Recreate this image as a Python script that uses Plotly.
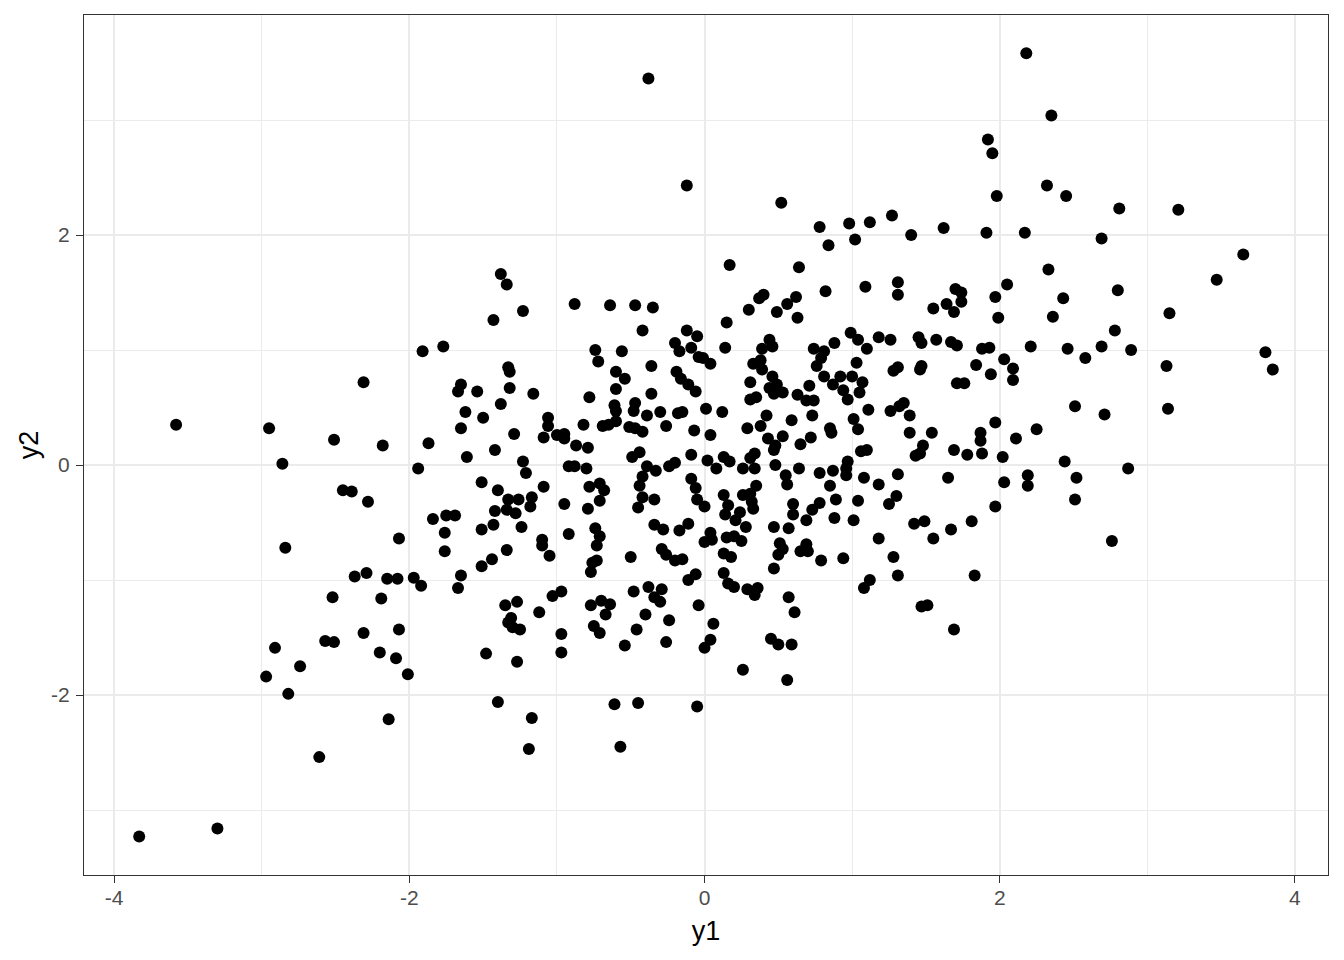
import plotly.graph_objects as go

# Values (y1 on x-axis, y2 on y-axis)
y1 = [
    -2.31, -3.58, -2.95, -2.51, -2.18, -2.86, -2.45, -2.39, -2.28, -2.07, -2.84, -2.37, -2.29, -2.15, -2.08, -2.52, -2.19,
    -2.31, -2.07, -2.57, -2.51, -2.91, -2.20, -2.09, -2.74, -2.97, -2.82, -2.01, -2.14, -2.61, -3.83, -3.30,
    -1.38, -1.34, -1.23, -1.43, -0.88, -0.64, -0.47, -0.35, -0.42, -1.91, -1.77, -0.74, -0.72, -0.56, -0.36, -1.33,
    -1.32, -0.60, -0.54, -1.65, -1.67, -1.54, -1.32, -1.16, -0.60, -0.36, -0.78, -1.62, -1.50, -1.38, -0.61, -0.60,
    -0.47, -0.48, -0.39, -0.30, -1.65, -1.29, -1.06, -1.06, -0.82, -0.69, -0.65, -0.60, -0.51, -0.47, -0.42, -0.26,
    -1.87, -1.61, -1.42, -1.09, -1.00, -0.95, -0.95, -0.87, -0.79, -0.49, -0.44, -0.39, -0.33, -0.24, -1.94, -1.23,
    -1.21, -0.92, -0.88, -0.80, -1.51, -0.78, -0.71, -0.42, -0.44, -1.09, -1.40,
    -0.68, -1.33, -1.26, -1.17, -1.18, -1.42, -1.34, -1.28, -0.95, -0.79, -0.71, -0.42, -0.34, -0.45, -1.84, -1.75,
    -1.69, -1.51, -1.43, -1.24, -1.76, -0.92, -0.74, -0.71, -0.73, -1.10, -1.10, -1.05, -0.34, -0.28, -0.29, -0.26,
    -1.76, -1.34, -1.44, -1.51, -0.50, -0.73, -0.76, -0.77, -1.97, -1.92, -1.65, -1.67, -1.03, -0.97, -1.35, -1.27,
    -1.12, -1.31, -1.33, -1.30, -1.25, -0.77, -0.70, -0.64, -0.67, -0.75, -0.71, -0.97, -0.97, -1.48, -1.27, -0.48,
    -0.38, -0.29, -0.34, -0.30, -0.40, -0.24, -0.46, -0.54, -0.26, -1.40, -1.17, -1.19, -0.61, -0.45, -0.57,
    0.17, 0.64, 1.09, 1.31, 1.31, 1.55, 0.82, 0.40, 0.37, 0.62, 0.56, 0.30, 0.49, 0.63, 0.15, -0.12,
    -0.05, -0.20, -0.17, -0.09, -0.04, -0.01, 0.04, 0.14, 0.44, 0.46, 0.39, 0.38, 0.33, 0.39, 0.74, 0.81,
    0.88, 0.79, 0.76, 0.99, 1.04, 1.10, 1.18, 1.26, 1.45, 1.47, 1.57, 1.03, 1.28, 1.31, 1.46, 1.47,
    -0.19, -0.16, -0.11, -0.06, 0.31, 0.31, 0.35, 0.46, 0.44, 0.49, 0.47, 0.53, 0.63, 0.71, 0.69, 0.74,
    0.81, 0.87, 0.92, 0.94, 1.00, 1.07, 0.97, 1.05, -0.18, -0.15, 0.01, 0.12, -0.07, 0.04, 0.29, 0.38,
    0.42, 0.59, 0.73, 0.43, 0.48, 0.47, 0.53, 0.65, 0.72, 0.85, 0.86, 1.01, 1.04, 1.11, 1.26, 1.32,
    1.35, 1.39, 1.39, 1.54, 1.48, 1.43, 1.46, 1.06, 1.10, 0.97, 0.96, 0.96, 0.87, 0.78, 0.64, 0.48,
    0.55, 0.56, 1.08, 1.18, 1.31, 0.85, -0.09, -0.20, 0.02, 0.08, 0.13, 0.17, 0.26, 0.31, 0.34, 0.34,
    -0.09, -0.06, 0.35,
    -0.05, 0.00, 0.13, 0.26, 0.31, 0.32, 0.33, 0.16, 0.14, 0.21, 0.24, 0.28, 0.60, 0.60, 0.69, 0.73,
    0.78, 0.89, 0.88, 1.04, 1.01, 1.30, 1.25, 1.42, 1.49, 1.55, 1.18, 1.28, 1.31, 0.47, 0.57, 0.51,
    0.53, 0.50, 0.69, 0.65, 0.70, 0.79, 0.94, 0.47, -0.17, -0.11, 0.04, 0.00, 0.05, 0.15, 0.20, 0.25,
    0.13, 0.18, -0.20, -0.15, 0.13, -0.06, -0.11, 0.16, 0.20, 0.29, 0.36, 0.34, 0.57, 0.61, -0.04, 0.06,
    0.04, 0.00, 0.45, 0.50, 0.59, 0.26, 0.56, -0.05, 1.08, 1.12, 1.47, 1.51,
    2.18, 2.35, 1.92, 1.95, 2.32, 2.45, 1.98, 2.81, 3.21, 1.62, 1.91, 2.17, 2.69, 3.65, 3.47, 2.33,
    2.05, 2.80, 1.70, 1.74, 1.97, 2.43, 1.64, 1.74, 1.69, 1.99, 2.36, 3.15, 2.78, 1.67, 1.71, 1.88,
    1.93, 2.21, 2.46, 2.69, 2.89, 2.58, 3.80, 3.85, 3.13, 2.03, 1.84, 1.94, 2.09, 2.09, 1.71, 1.76,
    2.51, 2.71, 3.14, 1.97, 1.87, 1.87, 2.11, 2.25, 1.69, 1.78, 1.88, 2.02, 2.44, 2.87, 1.65, 2.19,
    2.52,
    2.03, 2.19, 2.51, 1.97, 1.81, 1.67, 2.76, 1.83, 1.69,
    -0.38, -0.12, 0.52, 0.78, 0.84, 0.98, 1.02, 1.12, 1.27, 1.40,
]

y2 = [
    0.72, 0.35, 0.32, 0.22, 0.17, 0.01, -0.22, -0.23, -0.32, -0.64, -0.72, -0.97, -0.94, -0.99, -0.99, -1.15, -1.16,
    -1.46, -1.43, -1.53, -1.54, -1.59, -1.63, -1.68, -1.75, -1.84, -1.99, -1.82, -2.21, -2.54, -3.23, -3.16,
    1.66, 1.57, 1.34, 1.26, 1.40, 1.39, 1.39, 1.37, 1.17, 0.99, 1.03, 1.00, 0.90, 0.99, 0.86, 0.85,
    0.81, 0.81, 0.75, 0.70, 0.64, 0.64, 0.67, 0.62, 0.66, 0.62, 0.59, 0.46, 0.41, 0.53, 0.52, 0.47,
    0.54, 0.47, 0.43, 0.46, 0.32, 0.27, 0.41, 0.34, 0.35, 0.34, 0.35, 0.38, 0.33, 0.32, 0.29, 0.34,
    0.19, 0.07, 0.13, 0.24, 0.26, 0.27, 0.23, 0.17, 0.15, 0.07, 0.11, -0.01, -0.05, -0.01, -0.03, 0.03,
    -0.07, -0.01, -0.01, -0.03, -0.15, -0.19, -0.16, -0.10, -0.18, -0.19, -0.22,
    -0.22, -0.30, -0.30, -0.28, -0.36, -0.40, -0.39, -0.42, -0.34, -0.38, -0.31, -0.28, -0.30, -0.37, -0.47, -0.44,
    -0.44, -0.56, -0.52, -0.54, -0.59, -0.60, -0.55, -0.62, -0.70, -0.65, -0.70, -0.79, -0.52, -0.56, -0.73, -0.78,
    -0.75, -0.74, -0.82, -0.88, -0.80, -0.83, -0.85, -0.93, -0.98, -1.05, -0.96, -1.07, -1.14, -1.10, -1.22, -1.19,
    -1.28, -1.33, -1.37, -1.41, -1.43, -1.22, -1.18, -1.21, -1.30, -1.40, -1.46, -1.47, -1.63, -1.64, -1.71, -1.10,
    -1.06, -1.08, -1.15, -1.19, -1.30, -1.35, -1.43, -1.57, -1.54, -2.06, -2.20, -2.47, -2.08, -2.07, -2.45,
    1.74, 1.72, 1.55, 1.59, 1.48, 1.36, 1.51, 1.48, 1.45, 1.46, 1.40, 1.35, 1.33, 1.28, 1.24, 1.17,
    1.12, 1.06, 0.99, 1.02, 0.94, 0.93, 0.88, 1.02, 1.09, 1.03, 1.01, 0.91, 0.88, 0.83, 1.01, 0.99,
    1.06, 0.93, 0.86, 1.15, 1.09, 1.01, 1.11, 1.09, 1.11, 1.06, 1.09, 0.89, 0.82, 0.85, 0.83, 0.86,
    0.81, 0.75, 0.70, 0.64, 0.72, 0.57, 0.59, 0.77, 0.67, 0.70, 0.62, 0.63, 0.61, 0.69, 0.56, 0.56,
    0.77, 0.70, 0.77, 0.65, 0.77, 0.72, 0.57, 0.63, 0.45, 0.46, 0.49, 0.46, 0.30, 0.26, 0.32, 0.34,
    0.43, 0.39, 0.43, 0.23, 0.17, 0.13, 0.25, 0.18, 0.24, 0.32, 0.28, 0.40, 0.31, 0.48, 0.47, 0.51,
    0.54, 0.43, 0.28, 0.28, 0.17, 0.08, 0.10, 0.12, 0.13, 0.03, -0.03, -0.09, -0.05, -0.07, -0.03, 0.00,
    -0.09, -0.17, -0.11, -0.17, -0.08, -0.18, 0.09, 0.02, 0.04, -0.03, 0.07, 0.03, -0.03, 0.06, 0.10, -0.03,
    -0.12, -0.20, -0.18,
    -0.30, -0.36, -0.26, -0.26, -0.25, -0.32, -0.38, -0.35, -0.43, -0.48, -0.41, -0.54, -0.34, -0.43, -0.48, -0.39,
    -0.33, -0.30, -0.46, -0.31, -0.48, -0.27, -0.34, -0.51, -0.49, -0.64, -0.64, -0.80, -0.96, -0.54, -0.55, -0.68,
    -0.73, -0.78, -0.69, -0.75, -0.75, -0.83, -0.81, -0.90, -0.57, -0.51, -0.59, -0.67, -0.65, -0.63, -0.62, -0.66,
    -0.77, -0.80, -0.83, -0.82, -0.94, -0.95, -1.00, -1.03, -1.06, -1.08, -1.07, -1.13, -1.15, -1.28, -1.22, -1.38,
    -1.52, -1.59, -1.51, -1.56, -1.56, -1.78, -1.87, -2.10, -1.07, -1.00, -1.23, -1.22,
    3.58, 3.04, 2.83, 2.71, 2.43, 2.34, 2.34, 2.23, 2.22, 2.06, 2.02, 2.02, 1.97, 1.83, 1.61, 1.70,
    1.57, 1.52, 1.53, 1.50, 1.46, 1.45, 1.40, 1.42, 1.33, 1.28, 1.29, 1.32, 1.17, 1.07, 1.04, 1.01,
    1.02, 1.03, 1.01, 1.03, 1.00, 0.93, 0.98, 0.83, 0.86, 0.92, 0.87, 0.79, 0.84, 0.74, 0.71, 0.71,
    0.51, 0.44, 0.49, 0.37, 0.28, 0.21, 0.23, 0.31, 0.13, 0.09, 0.10, 0.07, 0.03, -0.03, -0.11, -0.09,
    -0.11,
    -0.15, -0.18, -0.30, -0.36, -0.49, -0.56, -0.66, -0.96, -1.43,
    3.36, 2.43, 2.28, 2.07, 1.91, 2.10, 1.96, 2.11, 2.17, 2.00,
]

x_tick_vals = [-4, -2, 0, 2, 4]
x_tick_text = ["-4", "-2", "0", "2", "4"]
x_minor_vals = [-3, -1, 1, 3]
y_tick_vals = [-2, 0, 2]
y_tick_text = ["-2", "0", "2"]
y_minor_vals = [-3, -1, 1, 3]

font_family = "Liberation Sans, Arial, Helvetica, sans-serif"
grid_col = "#EBEBEB"
axis_col = "#333333"

fig = go.Figure(
    go.Scatter(
        x=y1, y=y2, mode="markers",
        marker=dict(color="black", size=12, line=dict(width=0)),
        hoverinfo="x+y",
    )
)

common = dict(
    showline=True, mirror=True, linecolor=axis_col, linewidth=1.2,
    ticks="outside", ticklen=7, tickwidth=1.2, tickcolor=axis_col,
    showgrid=True, gridcolor=grid_col, gridwidth=2,
    zeroline=False,
    tickfont=dict(family=font_family, size=21, color="#4D4D4D"),
    tickmode="array",
)

fig.update_layout(
    width=1328, height=944,
    paper_bgcolor="white", plot_bgcolor="white",
    margin=dict(l=76, r=8, t=7, b=77),
    showlegend=False,
    font=dict(family=font_family),
    xaxis=dict(
        **common,
        range=[-4.204, 4.224],
        tickvals=x_tick_vals, ticktext=x_tick_text,
        ticklabelstandoff=-3,
        minor=dict(tickmode="array", tickvals=x_minor_vals, showgrid=True,
                   gridcolor=grid_col, gridwidth=1, ticks=""),
        title=dict(text="y1", font=dict(family=font_family, size=27, color="black"), standoff=12),
    ),
    yaxis=dict(
        **common,
        range=[-3.565, 3.913],
        tickvals=y_tick_vals, ticktext=y_tick_text,
        ticklabelstandoff=2,
        minor=dict(tickmode="array", tickvals=y_minor_vals, showgrid=True,
                   gridcolor=grid_col, gridwidth=1, ticks=""),
        title=dict(text="y2", font=dict(family=font_family, size=27, color="black"), standoff=4),
    ),
)

fig.write_html("out.html")
